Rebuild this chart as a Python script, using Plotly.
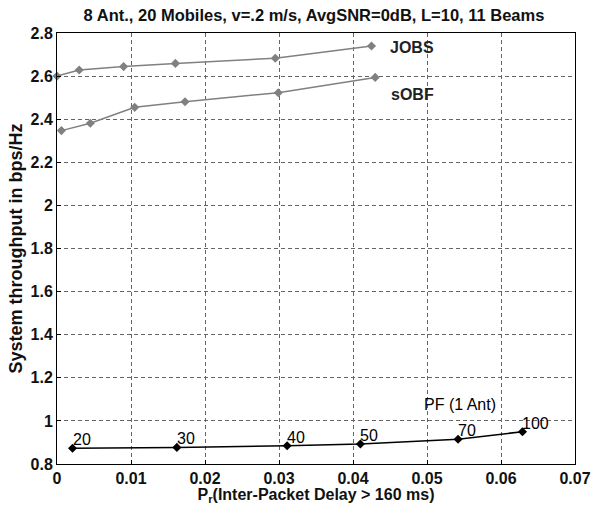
import plotly.graph_objects as go

jobs_x = [0.0, 0.003, 0.009, 0.016, 0.0295, 0.0425]
jobs_y = [2.60, 2.628, 2.644, 2.659, 2.683, 2.74]
sobf_x = [0.0006, 0.0045, 0.0105, 0.0173, 0.0299, 0.043]
sobf_y = [2.347, 2.381, 2.455, 2.481, 2.523, 2.594]
pf_x = [0.0021, 0.0162, 0.0311, 0.041, 0.0542, 0.0629]
pf_y = [0.873, 0.877, 0.885, 0.893, 0.915, 0.95]
pf_labels = ["20", "30", "40", "50", "70", "100"]

x_ticks = [0, 0.01, 0.02, 0.03, 0.04, 0.05, 0.06, 0.07]
x_tick_text = ["0", "0.01", "0.02", "0.03", "0.04", "0.05", "0.06", "0.07"]
y_ticks = [0.8, 1.0, 1.2, 1.4, 1.6, 1.8, 2.0, 2.2, 2.4, 2.6, 2.8]
y_tick_text = ["0.8", "1", "1.2", "1.4", "1.6", "1.8", "2", "2.2", "2.4", "2.6", "2.8"]

FONT = "Liberation Sans"
gray = "#808080"

fig = go.Figure()
fig.add_trace(go.Scatter(x=jobs_x, y=jobs_y, mode="lines+markers",
                         line=dict(color=gray, width=1.5),
                         marker=dict(symbol="diamond", size=7, color=gray),
                         showlegend=False, cliponaxis=False))
fig.add_trace(go.Scatter(x=sobf_x, y=sobf_y, mode="lines+markers",
                         line=dict(color=gray, width=1.5),
                         marker=dict(symbol="diamond", size=7, color=gray),
                         showlegend=False, cliponaxis=False))
fig.add_trace(go.Scatter(x=pf_x, y=pf_y, mode="lines+markers",
                         line=dict(color="black", width=1.5),
                         marker=dict(symbol="diamond", size=7, color="black"),
                         showlegend=False, cliponaxis=False))
for xv, yv, lab in zip(pf_x, pf_y, pf_labels):
    fig.add_annotation(x=xv, y=yv, text=lab, showarrow=False, xanchor="left", yanchor="bottom",
                       xshift=-2, yshift=-2,
                       font=dict(family=FONT, size=16, color="black"))

fig.add_annotation(x=0.0447, y=2.735, text="<b>JOBS</b>", showarrow=False, xanchor="left",
                   font=dict(family=FONT, size=16, color="#222"))
fig.add_annotation(x=0.0449, y=2.515, text="<b>sOBF</b>", showarrow=False, xanchor="left",
                   font=dict(family=FONT, size=16, color="#222"))
fig.add_annotation(x=0.0545, y=1.075, text="PF (1 Ant)", showarrow=False, xanchor="center",
                   font=dict(family=FONT, size=16, color="black"))

axis_common = dict(showline=True, linecolor="black", linewidth=1, mirror=True,
                   showgrid=True, gridcolor="#666", griddash="4px,3px", gridwidth=1,
                   ticks="inside", ticklen=4, tickcolor="black", zeroline=False,
                   tickfont=dict(family=FONT, size=16, color="#111"))

fig.update_layout(
    width=600, height=505,
    margin=dict(l=57, r=25, t=33, b=41),
    paper_bgcolor="white", plot_bgcolor="white",
    title=dict(text="<b>8 Ant., 20 Mobiles, v=.2 m/s, AvgSNR=0dB, L=10, 11 Beams</b>",
               x=314 / 600, xanchor="center", y=1 - 15 / 505, yanchor="middle",
               font=dict(family=FONT, size=16.5, color="#111")),
    xaxis=dict(range=[0, 0.07], tickvals=x_ticks, ticktext=[f"<b>{t}</b>" for t in x_tick_text],
               title=dict(text="<b>P<sub>r</sub>(Inter-Packet Delay > 160 ms)</b>",
                          font=dict(family=FONT, size=16, color="#111"), standoff=0),
               automargin=False, **axis_common),
    yaxis=dict(range=[0.8, 2.8], tickvals=y_ticks, ticktext=[f"<b>{t}</b>" for t in y_tick_text],
               title=dict(text="<b>System throughput in bps/Hz</b>",
                          font=dict(family=FONT, size=18, color="#111"), standoff=3),
               automargin=False, **axis_common),
)

fig.write_html("out.html", config={"displayModeBar": False},
               post_script="document.body.style.margin='0';")
